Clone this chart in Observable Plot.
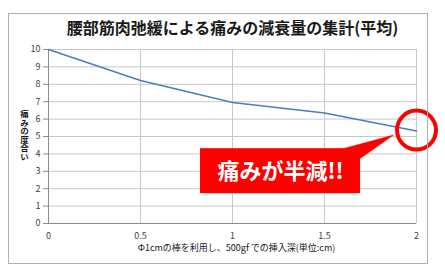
<!DOCTYPE html>
<html>
<head>
<meta charset="utf-8">
<script src="https://cdn.jsdelivr.net/npm/d3@7"></script>
<script src="https://cdn.jsdelivr.net/npm/@observablehq/plot@0.6"></script>
<style>
  html, body { margin: 0; padding: 0; background: #fff; }
  #wrap { position: relative; width: 445px; height: 269px; }
  #border { position: absolute; left: 8px; top: 13px; width: 418px; height: 249px; border: 1px solid #b0b0b0; pointer-events: none; }
</style>
</head>
<body>
<div id="wrap"><div id="border"></div></div>
<script>
// data
const depth = [0, 0.5, 1, 1.5, 2];
const pain = [10, 8.22, 6.96, 6.35, 5.31];
const yTicks = [0, 1, 2, 3, 4, 5, 6, 7, 8, 9, 10];
const xTicks = [0, 0.5, 1, 1.5, 2];
const title = "腰部筋肉弛緩による痛みの減衰量の集計(平均)";
const xLabel = "Φ1cmの棒を利用し、500gf での挿入深(単位:cm)";
const yLabel = "痛みの度合い";
// callout annotation (data space)
const calloutText = "痛みが半減!!";
const calloutBox = [{x1: 0.826, x2: 1.696, y1: 1.71, y2: 4.30}];
const calloutPointer = [{x: 1.60, y: 4.30}, {x: 1.875, y: 5.08}, {x: 1.696, y: 3.75}];
const calloutLabel = [{x: 1.261, y: 2.95}];

const data = depth.map((d, i) => ({x: d, y: pain[i]}));
const last = [data[data.length - 1]];
const font = "'Noto Sans CJK JP', 'Noto Sans', sans-serif";

const chart = Plot.plot({
  width: 445,
  height: 269,
  marginLeft: 48,
  marginRight: 29,
  marginTop: 49,
  marginBottom: 46,
  style: {fontFamily: font, background: "transparent", color: "#404040"},
  x: {domain: [0, 2], ticks: xTicks},
  y: {domain: [0, 10], ticks: yTicks},
  marks: [
    Plot.gridY(yTicks, {stroke: "#c8c8c8", strokeOpacity: 1, strokeWidth: 1}),
    Plot.gridX(xTicks.filter(d => d > 0), {stroke: "#c8c8c8", strokeOpacity: 1, strokeWidth: 1}),
    Plot.ruleX([0], {stroke: "#8c8c8c"}),
    Plot.ruleY([0], {stroke: "#8c8c8c"}),
    Plot.axisY(yTicks, {tickSize: 5, tickPadding: 3, fontSize: 9, stroke: "#8c8c8c", fill: "#404040", label: null}),
    Plot.axisX(xTicks, {tickSize: 0, tickPadding: 9, fontSize: 9, fill: "#404040", label: null, tickFormat: d => String(d)}),
    Plot.line(data, {x: "x", y: "y", stroke: "#4a7ebb", strokeWidth: 1.5}),
    Plot.rect(calloutBox, {x1: "x1", x2: "x2", y1: "y1", y2: "y2", fill: "#ff0000"}),
    Plot.line(calloutPointer, {x: "x", y: "y", fill: "#ff0000", stroke: "#ff0000", strokeWidth: 0.5}),
    Plot.text(calloutLabel, {x: "x", y: "y", text: () => calloutText, fill: "#ffffff", fontSize: 22, fontWeight: "bold", textAnchor: "middle", lineAnchor: "middle"}),
    Plot.dot(last, {x: "x", y: "y", r: 19.5, dy: -1, stroke: "#ff0000", strokeWidth: 4, fill: "none"}),
    Plot.text([title], {frameAnchor: "top", dy: -21, fontSize: 16, fontWeight: "bold", fill: "#1a1a1a", lineAnchor: "middle"}),
    Plot.text([xLabel], {frameAnchor: "bottom", dx: 4, dy: 25, fontSize: 9, fill: "#1a1a1a", lineAnchor: "middle"}),
    Plot.text([yLabel], {frameAnchor: "left", dx: -24, dy: -4, fontSize: 8.5, fontWeight: "bold", fill: "#1a1a1a", textAnchor: "middle"})
  ]
});
// render the y label vertically (upright characters)
d3.select(chart).selectAll("text").filter(function () { return this.textContent === yLabel; })
  .attr("dy", null)
  .attr("writing-mode", "vertical-rl")
  .style("text-orientation", "upright")
  .style("letter-spacing", "0px");
document.getElementById("wrap").prepend(chart);
</script>
</body>
</html>
